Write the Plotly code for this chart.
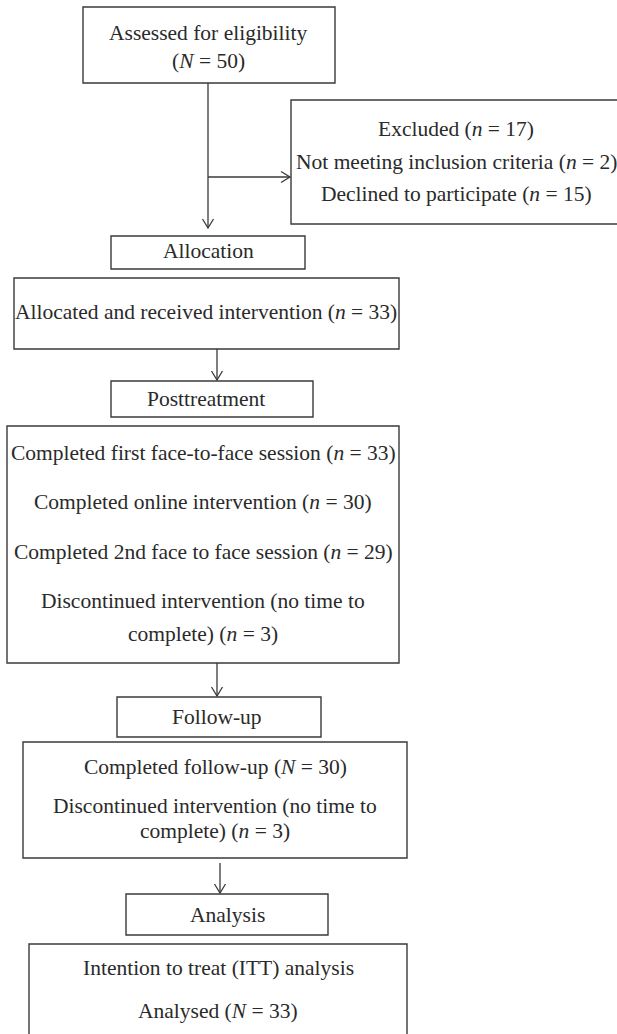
import plotly.graph_objects as go

# ---- data (counts shown in the flow diagram) ----
stage_labels = ["Allocation", "Posttreatment", "Follow-up", "Analysis"]
assessed_n = 50
excluded_n = 17
not_meeting_n = 2
declined_n = 15
allocated_n = 33
first_f2f_n = 33
online_n = 30
second_f2f_n = 29
discontinued_post_n = 3
followup_n = 30
discontinued_fu_n = 3
analysed_n = 33

def it(v):
    return "<i>" + v + "</i>"

# ---- layout geometry (pixels of the page, y downward) ----
W, H = 617, 1034
LINE = "#3a3a3a"
TXT = "#2a2a2a"
FONT = "Liberation Serif"
FS = 21.5

boxes = [
    (83, 7, 335, 83),      # assessed
    (291, 100, 630, 224),  # excluded
    (111, 236, 305, 269),  # allocation
    (14, 278, 399, 349),   # allocated
    (111, 381, 313, 417),  # posttreatment
    (7, 426, 399, 663),    # posttreatment details
    (117, 697, 321, 737),  # follow-up
    (23, 742, 407, 858),   # follow-up details
    (126, 894, 328, 935),  # analysis
    (29, 944, 407, 1045),  # analysis details
]

texts = [
    (208, 33, "Assessed for eligibility"),
    (208, 61, "(" + it("N") + " = %d)" % assessed_n),
    (456, 129, "Excluded (" + it("n") + " = %d)" % excluded_n),
    (456, 162, "Not meeting inclusion criteria (" + it("n") + " = %d)" % not_meeting_n),
    (456, 194, "Declined to participate (" + it("n") + " = %d)" % declined_n),
    (208, 251, stage_labels[0]),
    (206, 312, "Allocated and received intervention (" + it("n") + " = %d)" % allocated_n),
    (206, 399, stage_labels[1]),
    (203, 453, "Completed first face-to-face session (" + it("n") + " = %d)" % first_f2f_n),
    (203, 502, "Completed online intervention (" + it("n") + " = %d)" % online_n),
    (203, 552, "Completed 2nd face to face session (" + it("n") + " = %d)" % second_f2f_n),
    (203, 601, "Discontinued intervention (no time to"),
    (203, 634, "complete) (" + it("n") + " = %d)" % discontinued_post_n),
    (217, 717, stage_labels[2]),
    (215, 767, "Completed follow-up (" + it("N") + " = %d)" % followup_n),
    (215, 806, "Discontinued intervention (no time to"),
    (215, 831, "complete) (" + it("n") + " = %d)" % discontinued_fu_n),
    (227, 915, stage_labels[3]),
    (218, 968, "Intention to treat (ITT) analysis"),
    (218, 1011, "Analysed (" + it("N") + " = %d)" % analysed_n),
]

# connector lines: (x0,y0,x1,y1)
lines = [
    (208, 83, 208, 228),
    (208, 177, 290, 177),
    (217, 349, 217, 380),
    (217, 663, 217, 696),
    (220, 863, 220, 893),
]
# arrow tips: (x, y, direction)
arrows = [
    (208, 228, "down"),
    (290, 177, "right"),
    (217, 380, "down"),
    (217, 696, "down"),
    (220, 893, "down"),
]

shapes = []
for x0, y0, x1, y1 in boxes:
    shapes.append(dict(type="rect", x0=x0, y0=y0, x1=x1, y1=y1,
                       line=dict(color=LINE, width=1.4), fillcolor="rgba(0,0,0,0)"))
for x0, y0, x1, y1 in lines:
    shapes.append(dict(type="line", x0=x0, y0=y0, x1=x1, y1=y1,
                       line=dict(color=LINE, width=1.3)))
a, b = 9, 5.5
for x, y, d in arrows:
    if d == "down":
        p = "M %f %f L %f %f L %f %f" % (x - b, y - a, x, y, x + b, y - a)
    else:
        p = "M %f %f L %f %f L %f %f" % (x - a, y - b, x, y, x - a, y + b)
    shapes.append(dict(type="path", path=p, line=dict(color=LINE, width=1.3)))

annotations = []
for x, y, t in texts:
    annotations.append(dict(x=x, y=y, text=t, showarrow=False, xanchor="center",
                            yanchor="middle", font=dict(family=FONT, size=FS, color=TXT)))

fig = go.Figure()
fig.add_trace(go.Scatter(x=[0, W], y=[0, H], mode="markers",
                         marker=dict(opacity=0), hoverinfo="skip", showlegend=False))
fig.update_layout(
    width=W, height=H, margin=dict(l=0, r=0, t=0, b=0),
    paper_bgcolor="white", plot_bgcolor="white",
    xaxis=dict(range=[0, W], visible=False, fixedrange=True),
    yaxis=dict(range=[H, 0], visible=False, fixedrange=True),
    shapes=shapes, annotations=annotations, showlegend=False,
)
fig.write_html("out.html", config={"displayModeBar": False},
               post_script="document.body.style.margin='0';document.body.style.overflow='hidden';")
